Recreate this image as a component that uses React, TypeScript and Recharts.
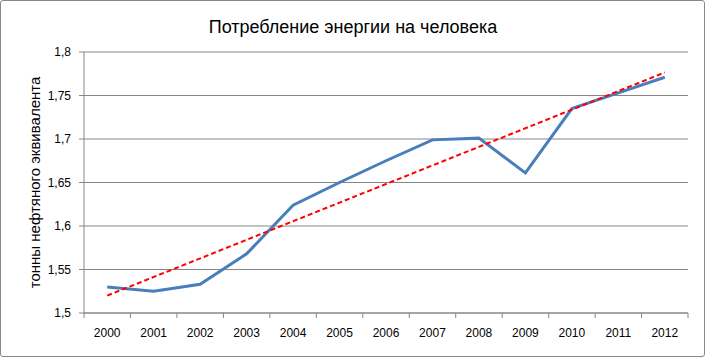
import { LineChart, Line, XAxis, YAxis, CartesianGrid } from 'recharts';

const years = ['2000', '2001', '2002', '2003', '2004', '2005', '2006', '2007', '2008', '2009', '2010', '2011', '2012'];
const perCapita = [1.53, 1.525, 1.533, 1.568, 1.624, 1.65, 1.675, 1.699, 1.701, 1.661, 1.735, 1.753, 1.771];
const trend: (number | null)[] = [1.52, null, null, null, null, null, null, null, null, null, null, null, 1.7765];
const yTicks = [1.5, 1.55, 1.6, 1.65, 1.7, 1.75, 1.8];

const data = years.map((year, i) => ({ year, value: perCapita[i], trend: trend[i] }));

const font = '"Liberation Sans", Arial, sans-serif';
const axisGray = '#868686';
const halfBand = 23.2;

// label in the middle of the category, tick mark on its left edge (and right edge for the last one)
const YearTick = (props: any) => {
  const { x, y, payload, index } = props;
  const last = index === years.length - 1;
  return (
    <g>
      <line x1={x - halfBand} y1={y} x2={x - halfBand} y2={y + 5} stroke={axisGray} />
      {last && <line x1={x + halfBand} y1={y} x2={x + halfBand} y2={y + 5} stroke={axisGray} />}
      <text x={x} y={y + 24} textAnchor="middle" fontFamily={font} fontSize={12} fill="#000">
        {payload.value}
      </text>
    </g>
  );
};

export default function App() {
  return (
    <div style={{ position: 'absolute', left: 0, top: 0, width: 706, height: 358, background: '#fff' }}>
      <div
        style={{
          position: 'absolute',
          left: 0,
          top: 0,
          width: 703,
          height: 355,
          border: '1px solid #888',
          borderRadius: 3,
        }}
      />
      <div
        style={{
          position: 'absolute',
          left: 0,
          top: 17,
          width: 706,
          textAlign: 'center',
          fontFamily: font,
          fontSize: 18,
          color: '#000',
        }}
      >
        Потребление энергии на человека
      </div>
      <LineChart
        width={706}
        height={358}
        data={data}
        margin={{ top: 52, right: 18, bottom: 15, left: 0 }}
        style={{ position: 'absolute', left: 0, top: 0 }}
      >
        <CartesianGrid vertical={false} stroke={axisGray} strokeWidth={1} />
        <XAxis
          dataKey="year"
          height={30}
          padding={{ left: halfBand, right: halfBand }}
          tickLine={false}
          axisLine={{ stroke: axisGray }}
          tickSize={0}
          tickMargin={0}
          interval={0}
          tick={<YearTick />}
        />
        <YAxis
          domain={[1.5, 1.8]}
          ticks={yTicks}
          width={84}
          tickSize={5}
          tickMargin={8}
          tickLine={{ stroke: axisGray }}
          axisLine={{ stroke: axisGray }}
          tickFormatter={(v: number) => String(v).replace('.', ',')}
          tick={{ fontFamily: font, fontSize: 12, fill: '#000' }}
          label={{
            value: 'тонны нефтяного эквивалента',
            angle: -90,
            position: 'center',
            dx: -7,
            style: { fontFamily: font, fontSize: 15, fill: '#000', textAnchor: 'middle' },
          }}
        />
        <Line
          dataKey="value"
          stroke="#4A7EBB"
          strokeWidth={3}
          dot={false}
          isAnimationActive={false}
        />
        <Line
          dataKey="trend"
          stroke="#FF0000"
          strokeWidth={2}
          strokeDasharray="5 3"
          dot={false}
          connectNulls
          isAnimationActive={false}
        />
      </LineChart>
    </div>
  );
}
